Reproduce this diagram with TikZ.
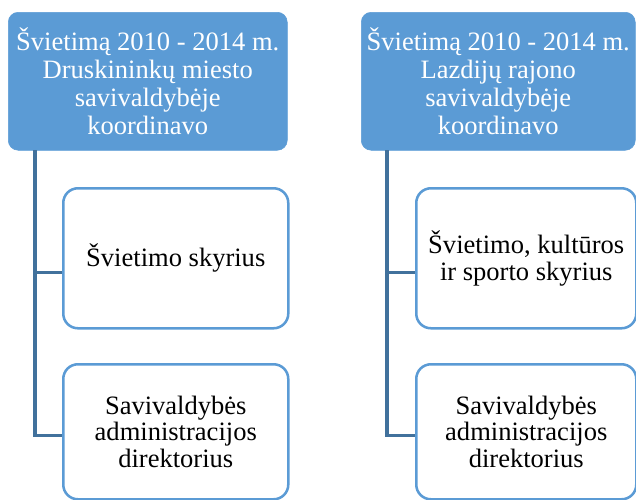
\documentclass[tikz,border=0pt]{standalone}
\usepackage{fontspec}
\setmainfont{Liberation Serif}
\usepackage{tikz}
\usetikzlibrary{positioning}
\definecolor{smblue}{HTML}{5B9BD5}
\definecolor{smline}{HTML}{41719C}

\begin{document}
\begin{tikzpicture}[x=0.75pt, y=-0.75pt,
    head/.style={draw=smblue, fill=smblue, rounded corners=7.5pt, anchor=north west,
      minimum height=103.5pt, align=center, text=white, inner sep=2pt,
      font=\fontsize{19.9}{20.8}\selectfont},
    unit/.style={draw=smblue, line width=1.9pt, fill=white, rounded corners=11pt, anchor=north west,
      minimum width=168.75pt, align=center, inner sep=2pt,
      font=\fontsize{19.9}{20}\selectfont},
    link/.style={draw=smline, line width=2.3pt}]
  \useasboundingbox (0,0) rectangle (636,500);
  % left column
  \node[head, minimum width=209.25pt] (topL) at (8,12)
    {Švietimą 2010 - 2014 m.\\ Druskininkų miesto\\ savivaldybėje\\ koordinavo};
  \node[unit, minimum height=105pt] (kidL1) at (62,187) {Švietimo skyrius};
  \node[unit, minimum height=101.25pt] (kidL2) at (62,363)
    {Savivaldybės\\ administracijos\\ direktorius};
  % right column
  \node[head, minimum width=205.5pt] (topR) at (361,12)
    {Švietimą 2010 - 2014 m.\\ Lazdijų rajono\\ savivaldybėje\\ koordinavo};
  \node[unit, minimum width=165pt, minimum height=105pt] (kidR1) at (415,187)
    {Švietimo, kultūros\\ ir sporto skyrius};
  \node[unit, minimum width=165pt, minimum height=101.25pt] (kidR2) at (415,363)
    {Savivaldybės\\ administracijos\\ direktorius};
  % connectors
  \coordinate (trunkL) at (35,150);
  \coordinate (trunkR) at (387,150);
  \draw[link] (trunkL) |- ([yshift=-10.5pt]kidL1.west);
  \draw[link] (trunkL) |- ([yshift=-2.6pt]kidL2.west);
  \draw[link] (trunkR) |- ([yshift=-10.5pt]kidR1.west);
  \draw[link] (trunkR) |- ([yshift=-2.6pt]kidR2.west);
\end{tikzpicture}
\end{document}
